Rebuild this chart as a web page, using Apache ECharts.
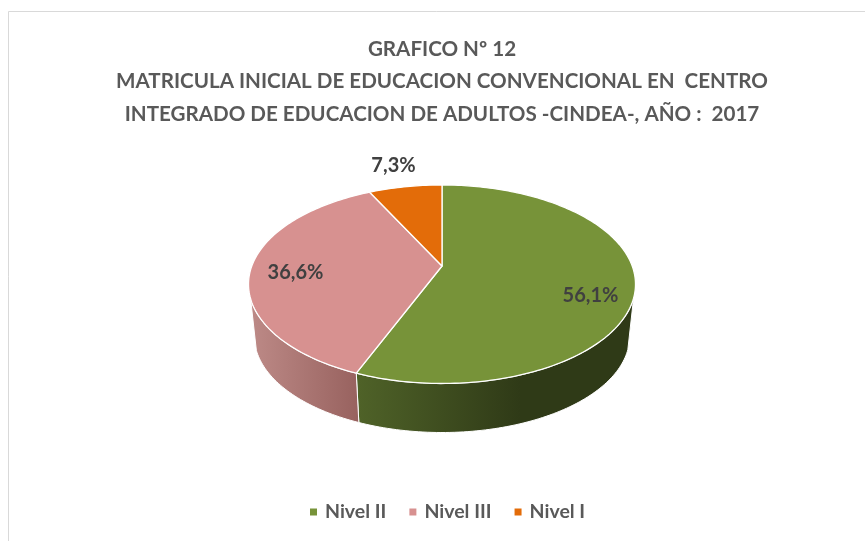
<!DOCTYPE html>
<html><head><meta charset="utf-8">
<style>html,body{margin:0;padding:0;background:#fff}#c{width:865px;height:541px}</style>
<script src="https://cdn.jsdelivr.net/npm/echarts@6/dist/echarts.min.js"></script>
</head><body><div id="c"></div>
<script>
const categories = ['Nivel II', 'Nivel III', 'Nivel I'];
const values = [56.1, 36.6, 7.3];
const titleLines = ['GRAFICO Nº 12', 'MATRICULA INICIAL DE EDUCACION CONVENCIONAL EN  CENTRO', 'INTEGRADO DE EDUCACION DE ADULTOS -CINDEA-, AÑO :  2017'];
const colors = ['#779339', '#d79190', '#e36c09'];
const sideGradients = [
  [[358, '#4f6228'], [520, '#2f3a17'], [636, '#2f3a17']],
  [[250, '#bd8a87'], [358, '#98625f']],
  [[370, '#98460a'], [442, '#98460a']]
];
const labelAnchors = [[590.5, 296], [295.5, 273], [393.5, 166]];

const FONT = 'Lato,"Noto Sans",sans-serif';
const Ax = 442, Ay = 266, K = 0.1837, RX = 190.2, RY = 95.9;
const lowScale = 0.97, topCy = 284.5, lowCy = 336.5, sideFromY = 298;
const total = values.reduce((a, b) => a + b, 0);

function rim(theta) {
  const u = Math.sin(theta), v = -Math.cos(theta), w = 1 - K * v;
  return [Ax + RX * u / w, Ay + RY * v / w];
}
function lower(p) {
  return [Ax + lowScale * (p[0] - Ax), lowCy + lowScale * (p[1] - topCy)];
}
function arc(a0, a1) {
  const n = Math.max(2, Math.ceil((a1 - a0) / 0.02)), pts = [];
  for (let i = 0; i <= n; i++) pts.push(rim(a0 + (a1 - a0) * i / n));
  return pts;
}
function fmt(v) { return v.toFixed(1).replace('.', ',') + '%'; }

function makeSeries(i) {
  return {
    type: 'custom', name: categories[i], coordinateSystem: 'none',
    data: [[values[i]]], animation: false, silent: true,
    itemStyle: { color: colors[i] },
    renderItem: function (params, api) {
      const before = values.slice(0, i).reduce((a, b) => a + b, 0);
      const a0 = before / total * 2 * Math.PI;
      const a1 = (before + api.value(0)) / total * 2 * Math.PI;
      const top = arc(a0, a1);
      const children = [];
      const front = top.filter(p => p[1] >= sideFromY);
      if (front.length > 1) {
        const low = front.map(lower);
        const g = sideGradients[i];
        const x0 = g[0][0], x1 = g[g.length - 1][0];
        children.push({
          type: 'polygon', z2: 1,
          shape: { points: front.concat(low.slice().reverse()) },
          style: {
            fill: new echarts.graphic.LinearGradient(x0, 0, x1, 0,
              g.map(s => ({ offset: (s[0] - x0) / (x1 - x0), color: s[1] })), true),
            stroke: '#fff', lineWidth: 1
          }
        });
      }
      children.push({
        type: 'polygon', z2: 10,
        shape: { points: [[Ax, Ay]].concat(top) },
        style: { fill: colors[i], stroke: '#fff', lineWidth: 1.3, lineJoin: 'round' }
      });
      children.push({
        type: 'text', z2: 20,
        style: {
          x: labelAnchors[i][0], y: labelAnchors[i][1], text: fmt(api.value(0)),
          fill: '#404040', align: 'center', verticalAlign: 'middle',
          font: 'bold 20px ' + FONT
        }
      });
      return { type: 'group', children: children };
    }
  };
}

const chart = echarts.init(document.getElementById('c'), null, { renderer: 'canvas' });
chart.setOption({
  backgroundColor: '#fff',
  animation: false,
  title: {
    text: titleLines.join('\n'), left: 437, top: 28, textAlign: 'center',
    textStyle: { fontFamily: FONT, fontWeight: 'bold', fontSize: 20.6, lineHeight: 32.5, color: '#595959' }
  },
  legend: {
    data: categories, left: 305, top: 497, icon: 'rect',
    itemWidth: 7, itemHeight: 7, itemGap: 23, selectedMode: false,
    textStyle: { fontFamily: FONT, fontWeight: 'bold', fontSize: 19.5, color: '#595959', padding: [0, 0, 0, 3] }
  },
  graphic: [{
    type: 'polyline', silent: true, z: -1,
    shape: { points: [[8.5, 541], [8.5, 11.5], [865, 11.5]] },
    style: { stroke: '#d9d9d9', lineWidth: 1, fill: null }
  }],
  series: categories.map((c, i) => makeSeries(i))
});
</script></body></html>
